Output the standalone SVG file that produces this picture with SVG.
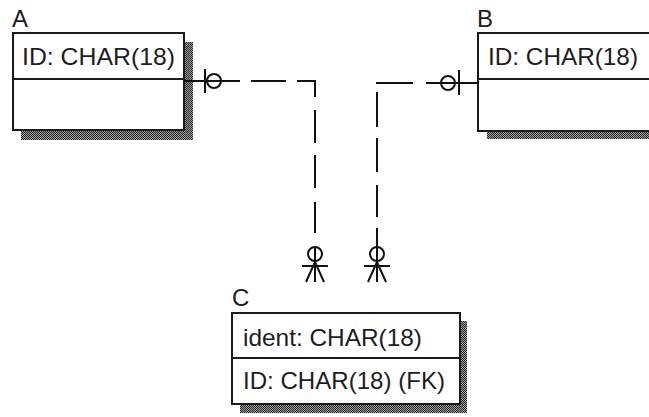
<svg xmlns="http://www.w3.org/2000/svg" width="649" height="417" viewBox="0 0 649 417">
  <defs>
    <pattern id="dither" width="2" height="2" patternUnits="userSpaceOnUse">
      <rect width="2" height="2" fill="#9a9a9a"/>
      <rect width="1" height="1" fill="#2a2a2a"/>
      <rect x="1" y="1" width="1" height="1" fill="#2a2a2a"/>
    </pattern>
  </defs>
  <style>
    .shadow { fill: url(#dither); }
    .box { fill: #ffffff; stroke: #1a1a1a; stroke-width: 2; }
    .div { stroke: #1a1a1a; stroke-width: 2; fill: none; }
    .txt { font-family: "Liberation Sans", Arial, sans-serif; font-size: 24px; fill: #1c1c22; }
    .lbl { font-family: "Liberation Sans", Arial, sans-serif; font-size: 24px; fill: #1c1c22; }
    .conn { stroke: #111111; stroke-width: 2; fill: none; }
  </style>
  <rect width="649" height="417" fill="#ffffff"/>

  <g id="A">
    <text class="lbl" x="12" y="27">A</text>
    <rect class="shadow" x="21" y="42" width="172" height="98"/>
    <rect class="box" x="13" y="33" width="171" height="97"/>
    <line class="div" x1="13" y1="79" x2="184" y2="79"/>
    <text class="txt" x="22" y="65" textLength="153" lengthAdjust="spacingAndGlyphs">ID: CHAR(18)</text>
  </g>

  <g id="B">
    <text class="lbl" x="477" y="27">B</text>
    <rect class="shadow" x="487" y="42" width="180" height="97"/>
    <rect class="box" x="478" y="33" width="190" height="98"/>
    <line class="div" x1="478" y1="79" x2="649" y2="79"/>
    <text class="txt" x="488" y="65" textLength="150" lengthAdjust="spacingAndGlyphs">ID: CHAR(18)</text>
  </g>

  <g id="C">
    <text class="lbl" x="232" y="306">C</text>
    <rect class="shadow" x="240" y="321" width="227" height="92"/>
    <rect class="box" x="232" y="313" width="228" height="91"/>
    <line class="div" x1="232" y1="358" x2="460" y2="358"/>
    <text class="txt" x="243" y="346" textLength="179" lengthAdjust="spacingAndGlyphs">ident: CHAR(18)</text>
    <text class="txt" x="243" y="389" textLength="202" lengthAdjust="spacingAndGlyphs">ID: CHAR(18) (FK)</text>
  </g>

  <g id="connectors">
    <g id="A-C">
      <path class="conn" d="M184,81 H240 M251,81 H286 M297,81 H315 V97 M315,110 V143 M315,155 V188 M315,202 V233 M315,247 V282"/>
      <path class="conn" d="M205,69 V93"/>
      <circle class="conn" cx="214" cy="81" r="7"/>
      <circle class="conn" cx="315" cy="254" r="7"/>
      <path class="conn" d="M302,266 H328 M315,262 L306,282 M315,262 L324,282"/>
    </g>
    <g id="B-C">
      <path class="conn" d="M478,83 H426 M413,83 H376 M377,92 V127 M377,138 V172 M377,185 V217 M377,228 V282"/>
      <path class="conn" d="M459,70 V95"/>
      <circle class="conn" cx="448" cy="83" r="7"/>
      <circle class="conn" cx="377" cy="254" r="7"/>
      <path class="conn" d="M364,266 H390 M377,262 L368,282 M377,262 L386,282"/>
    </g>
  </g>
</svg>
